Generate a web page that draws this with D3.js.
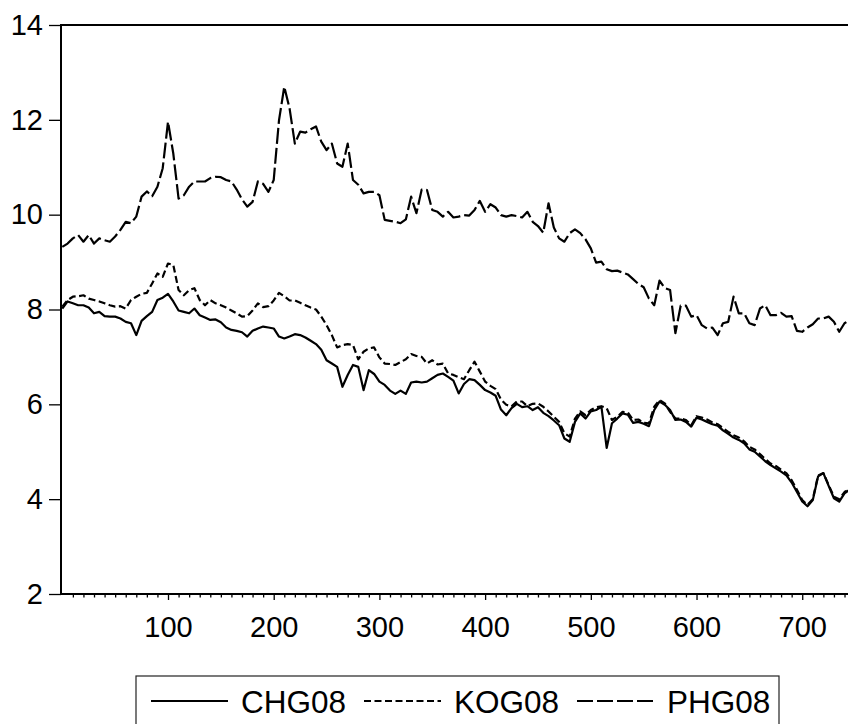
<!DOCTYPE html>
<html>
<head>
<meta charset="utf-8">
<script src="https://cdn.jsdelivr.net/npm/d3@7/dist/d3.min.js"></script>
<style>
  body { margin: 0; background: #fff; }
  svg { display: block; font-family: "Liberation Sans", Arial, sans-serif; }
</style>
</head>
<body>
<div class="chart"></div>
<script>
(function() {

    var obs = [0, 5, 10, 15, 20, 25, 30, 35, 40, 45, 50, 55, 60, 65, 70, 75, 80, 85, 90, 95,
        100, 105, 110, 115, 120, 125, 130, 135, 140, 145, 150, 155, 160, 165, 170, 175, 180, 185, 190, 195,
        200, 205, 210, 215, 220, 225, 230, 235, 240, 245, 250, 255, 260, 265, 270, 275, 280, 285, 290, 295,
        300, 305, 310, 315, 320, 325, 330, 335, 340, 345, 350, 355, 360, 365, 370, 375, 380, 385, 390, 395,
        400, 405, 410, 415, 420, 425, 430, 435, 440, 445, 450, 455, 460, 465, 470, 475, 480, 485, 490, 495,
        500, 505, 510, 515, 520, 525, 530, 535, 540, 545, 550, 555, 560, 565, 570, 575, 580, 585, 590, 595,
        600, 605, 610, 615, 620, 625, 630, 635, 640, 645, 650, 655, 660, 665, 670, 675, 680, 685, 690, 695,
        700, 705, 710, 715, 720, 725, 730, 735, 740, 745];

    var chg08 = [8.02, 8.17, 8.13, 8.09, 8.09, 8.04, 7.92, 7.95, 7.86, 7.85, 7.85, 7.81, 7.74, 7.71, 7.46, 7.76, 7.86, 7.95, 8.20, 8.25,
        8.33, 8.17, 7.98, 7.95, 7.92, 8.02, 7.88, 7.83, 7.78, 7.79, 7.73, 7.62, 7.57, 7.55, 7.52, 7.43, 7.55, 7.60, 7.64, 7.62,
        7.60, 7.43, 7.39, 7.43, 7.48, 7.46, 7.41, 7.34, 7.27, 7.15, 6.93, 6.86, 6.79, 6.37, 6.62, 6.83, 6.79, 6.30, 6.72, 6.64,
        6.48, 6.41, 6.29, 6.22, 6.29, 6.22, 6.46, 6.48, 6.46, 6.48, 6.55, 6.62, 6.65, 6.58, 6.50, 6.23, 6.43, 6.53, 6.51, 6.41,
        6.30, 6.25, 6.18, 5.89, 5.77, 5.92, 6.01, 5.94, 5.96, 5.88, 5.94, 5.82, 5.75, 5.66, 5.56, 5.28, 5.21, 5.63, 5.81, 5.70,
        5.85, 5.88, 5.95, 5.08, 5.60, 5.70, 5.81, 5.78, 5.61, 5.63, 5.59, 5.54, 5.88, 6.06, 5.99, 5.88, 5.67, 5.68, 5.63, 5.53,
        5.72, 5.68, 5.63, 5.58, 5.55, 5.45, 5.38, 5.30, 5.25, 5.18, 5.05, 5.00, 4.90, 4.80, 4.72, 4.65, 4.58, 4.50, 4.35, 4.15,
        3.95, 3.85, 3.98, 4.48, 4.55, 4.28, 4.02, 3.95, 4.12, 4.20];

    var kog08 = [8.06, 8.20, 8.27, 8.28, 8.30, 8.23, 8.20, 8.17, 8.13, 8.09, 8.06, 8.07, 8.02, 8.20, 8.27, 8.33, 8.35, 8.55, 8.76, 8.69,
        8.97, 8.94, 8.41, 8.30, 8.41, 8.45, 8.20, 8.09, 8.20, 8.13, 8.09, 8.04, 7.98, 7.92, 7.85, 7.86, 7.98, 8.13, 8.05, 8.07,
        8.19, 8.35, 8.28, 8.19, 8.19, 8.14, 8.09, 8.04, 8.00, 7.85, 7.67, 7.46, 7.20, 7.25, 7.27, 7.25, 6.95, 7.11, 7.18, 7.20,
        6.99, 6.86, 6.85, 6.83, 6.89, 6.95, 7.06, 7.02, 7.00, 6.86, 6.93, 6.84, 6.86, 6.65, 6.62, 6.57, 6.53, 6.72, 6.90, 6.69,
        6.48, 6.39, 6.32, 6.10, 5.99, 5.96, 6.06, 6.06, 5.96, 6.01, 6.02, 5.95, 5.85, 5.74, 5.63, 5.39, 5.32, 5.70, 5.85, 5.77,
        5.88, 5.94, 5.96, 5.92, 5.67, 5.74, 5.84, 5.83, 5.67, 5.68, 5.61, 5.60, 5.95, 6.09, 6.02, 5.84, 5.70, 5.70, 5.67, 5.56,
        5.75, 5.72, 5.68, 5.62, 5.58, 5.50, 5.42, 5.35, 5.30, 5.22, 5.10, 5.05, 4.95, 4.85, 4.75, 4.70, 4.62, 4.55, 4.40, 4.20,
        3.98, 3.88, 4.00, 4.50, 4.55, 4.30, 4.05, 4.00, 4.15, 4.22];

    var phg08 = [9.32, 9.39, 9.50, 9.57, 9.43, 9.57, 9.39, 9.50, 9.46, 9.43, 9.54, 9.68, 9.85, 9.82, 9.96, 10.38, 10.49, 10.39, 10.59, 10.98,
        11.96, 11.29, 10.34, 10.41, 10.59, 10.70, 10.70, 10.70, 10.77, 10.80, 10.79, 10.73, 10.70, 10.53, 10.32, 10.17, 10.27, 10.70, 10.65, 10.48,
        10.73, 11.99, 12.70, 12.24, 11.50, 11.75, 11.73, 11.80, 11.86, 11.54, 11.36, 11.50, 11.08, 11.01, 11.50, 10.73, 10.63, 10.45, 10.48, 10.48,
        10.41, 9.89, 9.87, 9.85, 9.82, 9.90, 10.38, 10.03, 10.53, 10.52, 10.10, 10.06, 9.96, 10.06, 9.94, 9.96, 9.99, 9.98, 10.10, 10.29,
        10.06, 10.22, 10.15, 9.99, 9.96, 9.99, 9.97, 9.94, 10.06, 9.85, 9.76, 9.62, 10.24, 9.73, 9.50, 9.43, 9.61, 9.69, 9.61, 9.48,
        9.29, 8.99, 9.01, 8.85, 8.81, 8.82, 8.78, 8.74, 8.64, 8.54, 8.47, 8.23, 8.09, 8.61, 8.45, 8.41, 7.50, 8.08, 8.08, 7.85,
        7.88, 7.67, 7.60, 7.62, 7.46, 7.71, 7.74, 8.27, 7.92, 7.92, 7.71, 7.67, 8.02, 8.09, 7.88, 7.88, 7.93, 7.85, 7.86, 7.55,
        7.53, 7.62, 7.69, 7.81, 7.81, 7.85, 7.74, 7.53, 7.71, 7.78];

    var seriesNames = ['CHG08', 'KOG08', 'PHG08'];
    var yTicks = [2, 4, 6, 8, 10, 12, 14];
    var xTicks = [100, 200, 300, 400, 500, 600, 700];
    var xMinor = [10, 20, 30, 40, 50, 60, 70, 80, 90, 110, 120, 130, 140, 150, 160, 170, 180, 190,
        210, 220, 230, 240, 250, 260, 270, 280, 290, 310, 320, 330, 340, 350, 360, 370, 380, 390,
        410, 420, 430, 440, 450, 460, 470, 480, 490, 510, 520, 530, 540, 550, 560, 570, 580, 590,
        610, 620, 630, 640, 650, 660, 670, 680, 690, 710, 720, 730, 740];

    var W = 848, H = 724;
    var plot = { left: 61, top: 25, bottom: 594, right: 850 };

    var svg = d3.select('.chart')
        .append('svg')
        .attr('width', W)
        .attr('height', H);

    var x = d3.scaleLinear().domain([0, 743.3]).range([62.3, 848]);
    var y = d3.scaleLinear().domain([2, 14]).range([plot.bottom, plot.top]);

    svg.append('clipPath').attr('id', 'clip')
        .append('rect')
        .attr('x', plot.left).attr('y', plot.top)
        .attr('width', plot.right - plot.left).attr('height', plot.bottom - plot.top);

    var styles = [
        { data: chg08, dash: null },
        { data: kog08, dash: '7,3.5' },
        { data: phg08, dash: '16,4' }
    ];

    var line = d3.line()
        .x(function(d) { return x(d[0]); })
        .y(function(d) { return y(d[1]); });

    var lines = svg.append('g').attr('clip-path', 'url(#clip)');
    styles.forEach(function(s) {
        lines.append('path')
            .datum(obs.map(function(o, i) { return [o, s.data[i]]; }))
            .attr('d', line)
            .attr('fill', 'none')
            .attr('stroke', '#000')
            .attr('stroke-width', 2.2)
            .attr('stroke-linejoin', 'round')
            .attr('stroke-dasharray', s.dash);
    });

    // axes
    var yAxis = svg.append('g')
        .attr('transform', 'translate(' + plot.left + ',0)')
        .call(d3.axisLeft(y).tickValues(yTicks).tickSize(12).tickPadding(6).tickFormat(d3.format('d')));

    var xAxis = svg.append('g')
        .attr('transform', 'translate(0,' + plot.bottom + ')')
        .call(d3.axisBottom(x).tickValues(xTicks).tickSize(6).tickPadding(16).tickFormat(d3.format('d')));

    var xAxisMinor = svg.append('g')
        .attr('transform', 'translate(0,' + plot.bottom + ')')
        .call(d3.axisBottom(x).tickValues(xMinor).tickSize(3.5).tickFormat(''));

    [yAxis, xAxis, xAxisMinor].forEach(function(a) {
        a.select('.domain').remove();
        a.selectAll('line').attr('stroke', '#000').attr('stroke-width', 1.3);
        a.selectAll('text').attr('fill', '#000').style('font-size', '29px');
    });

    // frame
    svg.append('path')
        .attr('d', 'M' + plot.right + ',' + plot.top + 'H' + plot.left + 'V' + plot.bottom + 'H' + plot.right)
        .attr('fill', 'none')
        .attr('stroke', '#000')
        .attr('stroke-width', 2);

    // legend
    var legend = svg.append('g');
    legend.append('rect')
        .attr('x', 136).attr('y', 676)
        .attr('width', 643).attr('height', 80)
        .attr('fill', '#fff')
        .attr('stroke', '#222')
        .attr('stroke-width', 1.2);

    var item = legend.selectAll('.item')
        .data(seriesNames)
        .enter()
        .append('g')
        .attr('class', 'item')
        .attr('transform', function(d, i) { return 'translate(' + (151 + i * 213) + ',701)'; });

    item.append('line')
        .attr('x1', 0).attr('x2', 77)
        .attr('stroke', '#000')
        .attr('stroke-width', 1.8)
        .attr('stroke-dasharray', function(d, i) { return styles[i].dash; });

    item.append('text')
        .attr('x', 90)
        .attr('y', 11.5)
        .style('font-size', '31.5px')
        .text(function(d) { return d; });

})()
</script>
</body>
</html>
